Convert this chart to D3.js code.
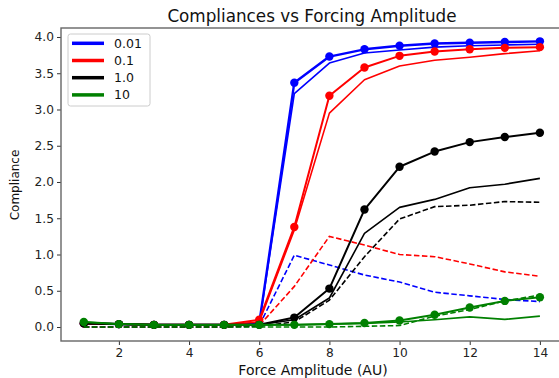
<!DOCTYPE html>
<html>
<head>
<meta charset="utf-8">
<script src="https://cdn.jsdelivr.net/npm/d3@7"></script>
<style>
  html, body { margin: 0; padding: 0; background: #fff; }
  svg { display: block; font-family: "DejaVu Sans", sans-serif; }
</style>
</head>
<body>
<svg id="chart" width="559" height="378"></svg>
<script>
// Force amplitudes (AU)
const amplitudes = [1, 2, 3, 4, 5, 6, 7, 8, 9, 10, 11, 12, 13, 14];

// Legend labels / damping levels and their colours
const levels = ["0.01", "0.1", "1.0", "10"];
const colors = ["#0000ff", "#ff0000", "#000000", "#008000"];

// Compliance, measured (drawn with markers)
const measured001 = [0.05, 0.04, 0.03, 0.03, 0.03, 0.05, 3.37, 3.73, 3.83, 3.88, 3.91, 3.92, 3.93, 3.94];
const measured01  = [0.05, 0.04, 0.03, 0.03, 0.03, 0.10, 1.38, 3.19, 3.58, 3.74, 3.80, 3.83, 3.85, 3.86];
const measured1   = [0.05, 0.04, 0.03, 0.03, 0.03, 0.03, 0.13, 0.53, 1.62, 2.21, 2.42, 2.55, 2.62, 2.68];
const measured10  = [0.07, 0.04, 0.03, 0.03, 0.03, 0.03, 0.03, 0.04, 0.055, 0.09, 0.17, 0.27, 0.36, 0.41];

// Compliance, model (solid thin line)
const model001 = [0.05, 0.04, 0.03, 0.03, 0.03, 0.04, 3.22, 3.64, 3.78, 3.82, 3.86, 3.88, 3.89, 3.90];
const model01  = [0.05, 0.04, 0.03, 0.03, 0.03, 0.07, 1.34, 2.95, 3.41, 3.60, 3.68, 3.72, 3.77, 3.81];
const model1   = [0.05, 0.04, 0.03, 0.03, 0.03, 0.03, 0.10, 0.40, 1.29, 1.65, 1.76, 1.92, 1.97, 2.05];
const model10  = [0.07, 0.04, 0.03, 0.03, 0.03, 0.03, 0.03, 0.04, 0.05, 0.07, 0.10, 0.14, 0.105, 0.15];

// Compliance, linear estimate (dashed line)
const linear001 = [0.0, 0.0, 0.0, 0.0, 0.0, 0.02, 0.99, 0.855, 0.717, 0.62, 0.48, 0.43, 0.38, 0.35];
const linear01  = [0.0, 0.0, 0.0, 0.0, 0.0, 0.02, 0.56, 1.25, 1.13, 1.00, 0.97, 0.87, 0.76, 0.70];
const linear1   = [0.0, 0.0, 0.0, 0.0, 0.0, 0.01, 0.07, 0.37, 0.97, 1.49, 1.66, 1.68, 1.73, 1.72];
const linear10  = [0.0, 0.0, 0.0, 0.0, 0.0, 0.0, 0.0, 0.0, 0.01, 0.02, 0.15, 0.24, 0.36, 0.44];

const xTicks = [2, 4, 6, 8, 10, 12, 14];
const yTicks = [0.0, 0.5, 1.0, 1.5, 2.0, 2.5, 3.0, 3.5, 4.0];

const measured = [measured001, measured01, measured1, measured10];
const model = [model001, model01, model1, model10];
const linear = [linear001, linear01, linear1, linear10];

const svg = d3.select("#chart");
const plotLeft = 61, plotRight = 562.7, plotTop = 28, plotBottom = 341;

const x = d3.scaleLinear().domain([0.35, 14.65]).range([plotLeft, plotRight]);
const y = d3.scaleLinear().domain([-0.193, 4.124]).range([plotBottom, plotTop]);

const line = d3.line()
  .x((d, i) => x(amplitudes[i]))
  .y(d => y(d));

const plot = svg.append("g");

levels.forEach((lvl, k) => {
  const c = colors[k];
  // model curve
  plot.append("path").attr("d", line(model[k]))
    .attr("fill", "none").attr("stroke", c).attr("stroke-width", 1.6)
    .attr("stroke-linejoin", "round");
  // linear estimate
  plot.append("path").attr("d", line(linear[k]))
    .attr("fill", "none").attr("stroke", c).attr("stroke-width", 1.6)
    .attr("stroke-dasharray", "5.5,2.5");
  // measured with markers
  plot.append("path").attr("d", line(measured[k]))
    .attr("fill", "none").attr("stroke", c).attr("stroke-width", k === 0 ? 2.4 : 2)
    .attr("stroke-linejoin", "round");
  plot.selectAll(null).data(measured[k]).enter().append("circle")
    .attr("cx", (d, i) => x(amplitudes[i]))
    .attr("cy", d => y(d))
    .attr("r", 4.2)
    .attr("fill", c);
});

// Axes
const xAxis = d3.axisBottom(x).tickValues(xTicks).tickSize(4).tickPadding(3)
  .tickFormat(d3.format("d"));
const yAxis = d3.axisLeft(y).tickValues(yTicks).tickSize(4).tickPadding(3)
  .tickFormat(d3.format(".1f"));

const gx = svg.append("g").attr("transform", `translate(0,${plotBottom})`).call(xAxis);
const gy = svg.append("g").attr("transform", `translate(${plotLeft},0)`).call(yAxis);
[gx, gy].forEach(g => {
  g.select(".domain").remove();
  g.selectAll(".tick line").attr("stroke", "#333").attr("stroke-width", 1);
  g.selectAll(".tick text").attr("fill", "#222")
    .style("font-family", "DejaVu Sans").style("font-size", "12.2px");
});

// Frame
svg.append("rect")
  .attr("x", plotLeft).attr("y", plotTop)
  .attr("width", plotRight - plotLeft).attr("height", plotBottom - plotTop)
  .attr("fill", "none").attr("stroke", "#666").attr("stroke-width", 1.4);

// Titles
svg.append("text").attr("x", 312).attr("y", 22)
  .attr("text-anchor", "middle").style("font-size", "16.8px").attr("fill", "#111")
  .text("Compliances vs Forcing Amplitude");
svg.append("text").attr("x", 313).attr("y", 375)
  .attr("text-anchor", "middle").style("font-size", "14px").attr("fill", "#111")
  .text("Force Amplitude (AU)");
svg.append("text")
  .attr("transform", "translate(19,185) rotate(-90)")
  .attr("text-anchor", "middle").style("font-size", "12px").attr("fill", "#111")
  .text("Compliance");

// Legend
const legend = svg.append("g");
legend.append("rect")
  .attr("x", 68).attr("y", 34).attr("width", 82).attr("height", 72)
  .attr("rx", 2.5).attr("fill", "#fff").attr("fill-opacity", 0.8)
  .attr("stroke", "#ccc").attr("stroke-width", 1);
levels.forEach((lvl, k) => {
  const ly = 43.3 + k * 17.2;
  legend.append("line")
    .attr("x1", 72).attr("x2", 104).attr("y1", ly).attr("y2", ly)
    .attr("stroke", colors[k]).attr("stroke-width", 3.5);
  legend.append("text")
    .attr("x", 114).attr("y", ly + 4.5)
    .style("font-size", "12.5px").attr("fill", "#111")
    .text(lvl);
});
</script>
</body>
</html>
